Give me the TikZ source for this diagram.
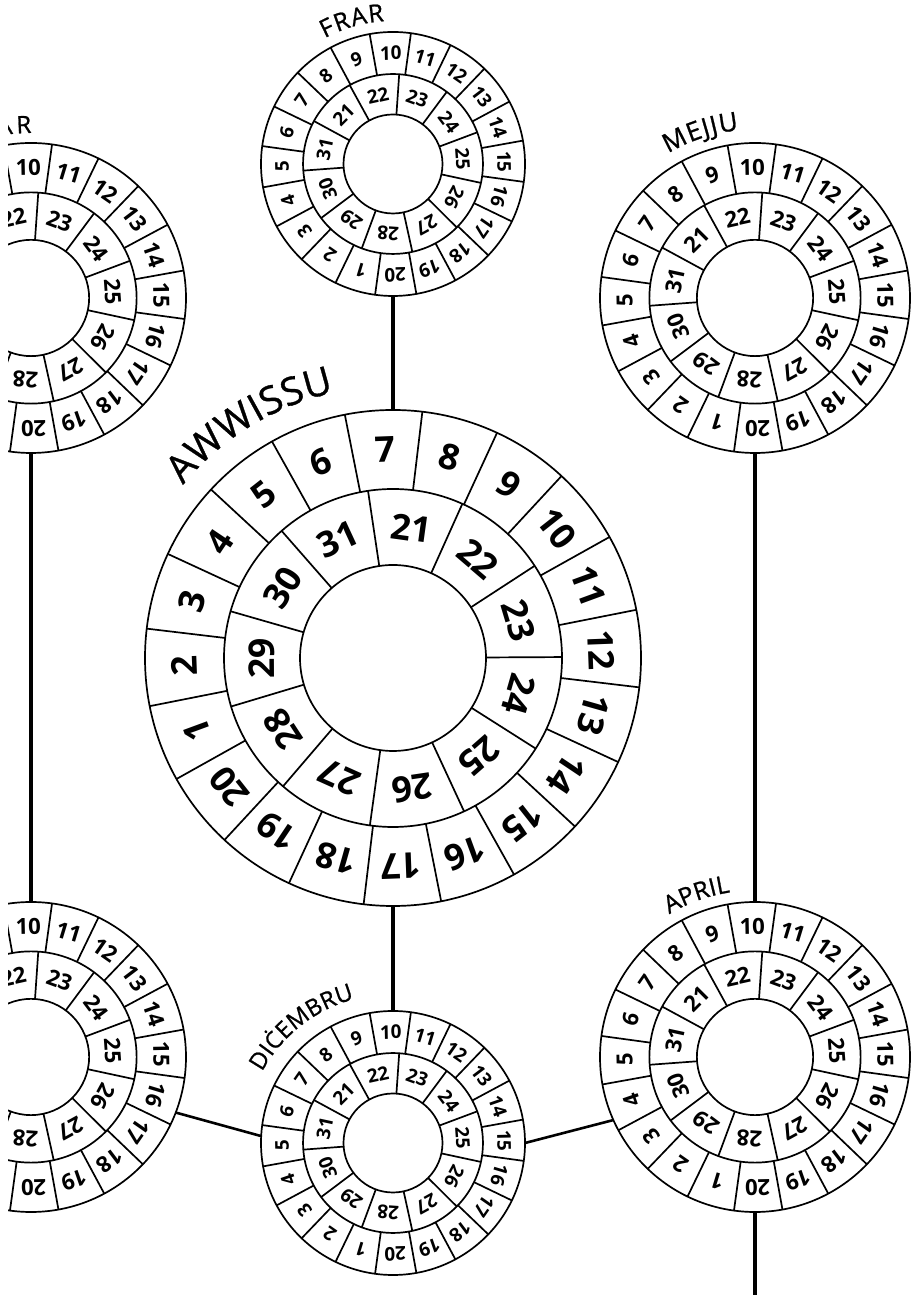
\documentclass[tikz,border=0pt]{standalone}
\usepackage{fontspec}
\setmainfont{Open Sans}
\newfontfamily\labelfam{Open Sans}[FakeBold=0.9]
\usetikzlibrary{decorations.text}
\tikzset{
  calnode/.style={circle, draw, line width=1.7pt, inner sep=0pt, outer sep=0pt},
  seg/.style={line width=1.7pt},
  conn/.style={line width=3.2pt},
  diag/.style={line width=2.6pt},
  num/.style={inner sep=0pt},
}
\newcommand\labfont{\labelfam\fontsize{\lsz pt}{\lsz pt}\selectfont}
\newcommand\numfont{\bfseries\fontsize{\cfs pt}{\cfs pt}\selectfont}
% #1 name, #2 x, #3 y, #4 outer radius, #5 rotation
\newcommand\calwheel[5]{%
  \pgfmathsetmacro\cs{#4/248}%
  \pgfmathsetmacro\cR{#4}%
  \pgfmathsetmacro\cRm{\cs*169}%
  \pgfmathsetmacro\cRi{\cs*93}%
  \pgfmathsetmacro\cro{\cs*208.5}%
  \pgfmathsetmacro\cri{\cs*131}%
  \pgfmathsetmacro\cfs{\cs*35.5}%
  \pgfmathsetmacro\cD{2*#4}%
  \node[calnode, minimum size=\cD pt] (#1) at (#2,#3) {};
  \draw[seg] (#2,#3) circle[radius=\cRm pt];
  \draw[seg] (#2,#3) circle[radius=\cRi pt];
  \foreach \k in {0,...,19} {
    \pgfmathsetmacro\ang{101.2+#5-18*\k}%
    \pgfmathsetmacro\xa{#2+\cRm*cos(\ang)}%
    \pgfmathsetmacro\ya{#3+\cRm*sin(\ang)}%
    \pgfmathsetmacro\xb{#2+\cR*cos(\ang)}%
    \pgfmathsetmacro\yb{#3+\cR*sin(\ang)}%
    \draw[seg] (\xa,\ya) -- (\xb,\yb);
  }
  \foreach \k in {0,...,10} {
    \pgfmathsetmacro\ang{98.5+#5-32.7273*\k}%
    \pgfmathsetmacro\xa{#2+\cRi*cos(\ang)}%
    \pgfmathsetmacro\ya{#3+\cRi*sin(\ang)}%
    \pgfmathsetmacro\xb{#2+\cRm*cos(\ang)}%
    \pgfmathsetmacro\yb{#3+\cRm*sin(\ang)}%
    \draw[seg] (\xa,\ya) -- (\xb,\yb);
  }
  \foreach \n in {1,...,20} {
    \pgfmathsetmacro\ang{92.2+#5-18*(\n-7)}%
    \pgfmathsetmacro\rt{\ang-90}%
    \pgfmathsetmacro\xa{#2+\cro*cos(\ang)}%
    \pgfmathsetmacro\ya{#3+\cro*sin(\ang)}%
    \node[num, rotate=\rt, font=\numfont] (#1-o\n) at (\xa,\ya) {\n};
  }
  \foreach \n in {21,...,31} {
    \pgfmathsetmacro\ang{82.15+#5-32.7273*(\n-21)}%
    \pgfmathsetmacro\rt{\ang-90}%
    \pgfmathsetmacro\xa{#2+\cri*cos(\ang)}%
    \pgfmathsetmacro\ya{#3+\cri*sin(\ang)}%
    \node[num, rotate=\rt, font=\numfont] (#1-i\n) at (\xa,\ya) {\n};
  }
}
% #1 x, #2 y, #3 baseline radius, #4 text, #5 start angle, #6 end angle, #7 font size
\newcommand\calabel[7]{%
  \pgfmathsetmacro\lsz{#7}%
  \pgfmathsetmacro\lr{#3}%
  \pgfmathsetmacro\xa{#1+\lr*cos(#5)}%
  \pgfmathsetmacro\ya{#2+\lr*sin(#5)}%
  \path[decorate, decoration={text along path, text={|\labfont|#4}, text align=fit to path}]
    (\xa,\ya) arc[start angle=#5, end angle=#6, radius=\lr pt];
}
\begin{document}
\begin{tikzpicture}[x=1pt, y=1pt]
\useasboundingbox (0,0) rectangle (911,1295);
\fill[white] (0,0) rectangle (911,1295);
\begin{scope}
\clip (8,0) rectangle (911,1295);
\calwheel{M}{393}{637}{248}{0}
\calwheel{F}{393}{1131}{132}{53}
\calwheel{MJ}{755}{997}{155}{53}
\calwheel{AP}{755}{238}{155}{53}
\calwheel{D}{393}{152}{132}{53}
\calwheel{LT}{31}{997}{155}{53}
\calwheel{LB}{31}{238}{155}{53}
\calabel{393}{637}{272}{AWWISSU}{140.5}{102.5}{38.5}
\calabel{393}{1131}{143}{FRAR}{118.5}{93.5}{24.5}
\calabel{755}{997}{168.5}{MEJJU}{121}{95.5}{26}
\calabel{755}{238}{166.5}{APRIL}{121}{98.5}{24.5}
\calabel{393}{152}{149}{DIĊEMBRU}{151.5}{105}{23.5}
\calabel{31}{997}{165}{AR}{101.5}{89.8}{24}
\coordinate (bot) at (755,0);
\draw[conn] (F.south) -- (M.north);
\draw[conn] (M.south) -- (D.north);
\draw[conn] (MJ.south) -- (AP.north);
\draw[conn] (AP.south) -- (bot);
\draw[conn] (LT.south) -- (LB.north);
\draw[diag] (LB.-21.7) -- (D.177.5);
\draw[diag] (D.-0.4) -- (AP.204.6);
\end{scope}
\end{tikzpicture}
\end{document}
